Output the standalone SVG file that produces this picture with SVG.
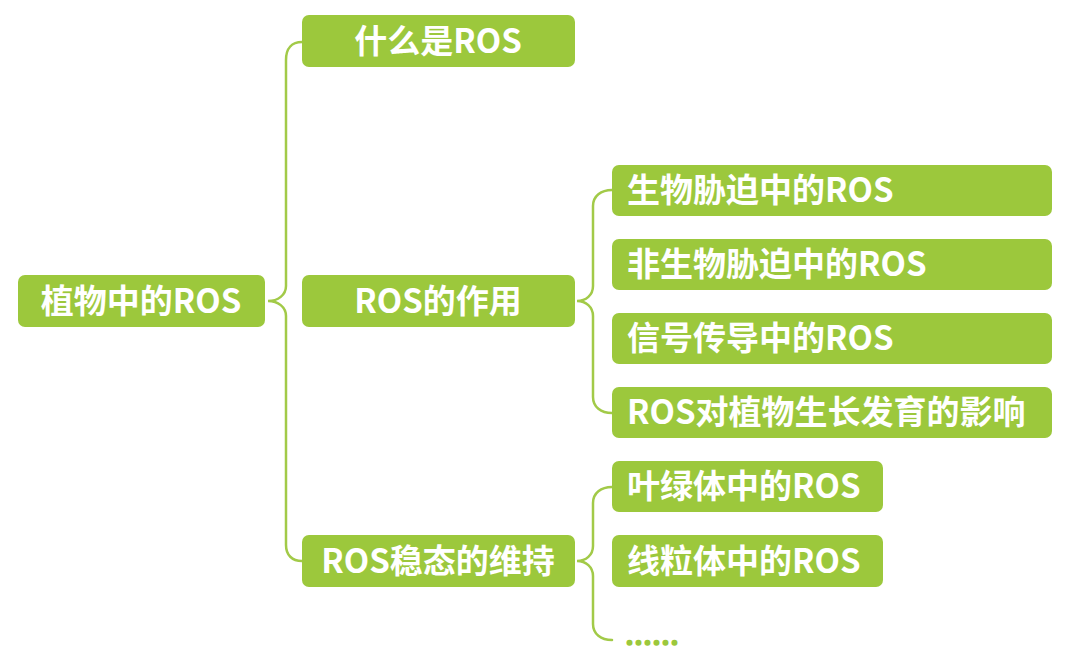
<svg xmlns="http://www.w3.org/2000/svg" width="1080" height="660" viewBox="0 0 1080 660">
<style>
.box{fill:#9cc83c;}
.t{fill:#ffffff;font-family:"Noto Sans CJK SC","Microsoft YaHei",sans-serif;font-weight:bold;font-size:33px;}
.c{text-anchor:middle;}
.ln{fill:none;stroke:#a2ca48;stroke-width:2.5;stroke-linecap:round;}
.dots{fill:#9cc83c;stroke:#9cc83c;stroke-width:1.6;font-family:"Noto Sans CJK SC",sans-serif;font-weight:bold;font-size:27px;}
</style>
<rect width="1080" height="660" fill="#ffffff"/>
<g id="connectors">
<path class="ln" d="M302,42 C292,42 286,48 286,60 L286,286 C286,295 278,301 268,301 C278,301 286,307 286,316 L286,545 C286,555 292,561 302,561"/>
<path class="ln" d="M612,190 C601,190 593,196 593,206 L593,286 C593,295 586,301 577,301 C586,301 593,307 593,316 L593,397 C593,407 601,413 612,413"/>
<path class="ln" d="M612,487 C601,487 593,493 593,503 L593,546 C593,555 586,561 577,561 C586,561 593,567 593,576 L593,624 C593,634 601,640 612,640"/>
</g>
<g id="root"><rect class="box" x="18" y="275" width="247" height="52" rx="7"/><text class="t c" x="141" y="313">植物中的ROS</text></g>
<g id="n1"><rect class="box" x="302" y="15" width="273" height="52" rx="7"/><text class="t c" x="438" y="53">什么是ROS</text></g>
<g id="n2"><rect class="box" x="302" y="275" width="273" height="52" rx="7"/><text class="t c" x="438" y="313">ROS的作用</text></g>
<g id="n3"><rect class="box" x="302" y="535" width="273" height="52" rx="7"/><text class="t c" x="438" y="573">ROS稳态的维持</text></g>
<g id="n21"><rect class="box" x="612" y="165" width="440" height="51" rx="7"/><text class="t" x="627" y="202">生物胁迫中的ROS</text></g>
<g id="n22"><rect class="box" x="612" y="239" width="440" height="51" rx="7"/><text class="t" x="627" y="276">非生物胁迫中的ROS</text></g>
<g id="n23"><rect class="box" x="612" y="313" width="440" height="51" rx="7"/><text class="t" x="627" y="350">信号传导中的ROS</text></g>
<g id="n24"><rect class="box" x="612" y="387" width="440" height="51" rx="7"/><text class="t" x="627" y="424">ROS对植物生长发育的影响</text></g>
<g id="n31"><rect class="box" x="612" y="461" width="271" height="51" rx="7"/><text class="t" x="627" y="498">叶绿体中的ROS</text></g>
<g id="n32"><rect class="box" x="612" y="535" width="271" height="52" rx="7"/><text class="t" x="627" y="573">线粒体中的ROS</text></g>
<g id="n33"><text class="dots" x="625" y="653">……</text></g>
</svg>
